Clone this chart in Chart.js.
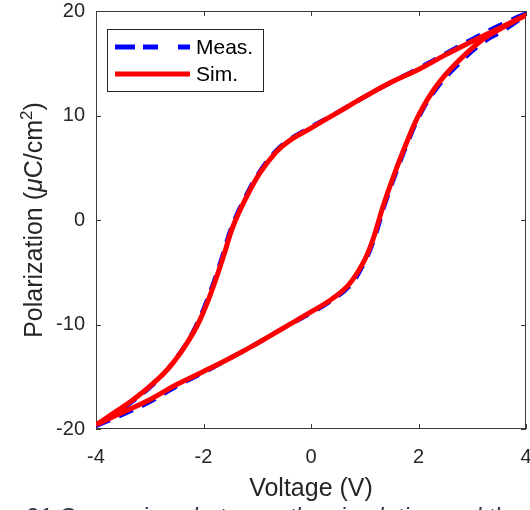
<!DOCTYPE html>
<html>
<head>
<meta charset="utf-8">
<script src="https://cdn.jsdelivr.net/npm/chart.js@4/dist/chart.umd.min.js"></script>
<style>
  html, body { margin: 0; padding: 0; background: #fff; overflow: hidden; }
  #wrap { width: 530px; height: 510px; }
</style>
</head>
<body>
<div id="wrap"><canvas id="c" width="530" height="510"></canvas></div>
<script>
// Hysteresis loops: rising branch (-4 V -> 4 V) followed by falling branch (4 V -> -4 V)
const measVoltage = [-4, -3.5, -3, -2.5, -2, -1.5, -1, -0.5, 0, 0.35, 0.72, 0.98, 1.17, 1.36, 1.55, 1.79, 2.04, 2.35, 2.72, 3.2, 3.6, 4,
                     3.5, 3.0, 2.5, 2.0, 1.5, 1.0, 0.5, 0, -0.4, -0.67, -0.97, -1.22, -1.47, -1.65, -1.84, -2.09, -2.33, -2.64, -2.95, -3.33, -3.65, -4];
const measPolarization = [-19.7, -18.6, -17.4, -15.9, -14.6, -13.2, -11.8, -10.3, -8.9, -7.8, -6.3, -4.2, -1.9, 1.3, 4.1, 7.3, 10.2, 12.7, 14.8, 17.0, 18.2, 19.7,
                          18.6, 17.3, 15.9, 14.5, 13.2, 11.8, 10.3, 8.9, 7.7, 6.5, 4.5, 2.2, -0.6, -3.5, -6.4, -9.6, -11.9, -14.1, -15.8, -17.4, -18.6, -19.7];

const simVoltage = [-4, -3.5, -3, -2.5, -2, -1.5, -1, -0.5, 0, 0.35, 0.7, 0.97, 1.15, 1.34, 1.53, 1.77, 2.02, 2.33, 2.7, 3.2, 3.6, 4,
                    3.5, 3.0, 2.5, 2.0, 1.5, 1.0, 0.5, 0, -0.4, -0.65, -0.95, -1.2, -1.45, -1.63, -1.82, -2.07, -2.31, -2.62, -2.93, -3.31, -3.65, -4];
const simPolarization = [-19.6, -18.4, -17.2, -15.75, -14.5, -13.2, -11.8, -10.3, -8.8, -7.7, -6.2, -4.1, -1.9, 1.3, 4.1, 7.3, 10.2, 12.8, 15.0, 17.3, 18.5, 19.6,
                         18.35, 17.1, 15.8, 14.4, 13.2, 11.8, 10.3, 8.8, 7.6, 6.5, 4.5, 2.2, -0.6, -3.5, -6.4, -9.6, -11.8, -14.0, -15.6, -17.2, -18.4, -19.6];

const seriesNames = ['Meas.', 'Sim.'];
const voltageTicks = [-4, -2, 0, 2, 4];
const polarizationTicks = [-20, -10, 0, 10, 20];
const captionText = '21 Comparison between the simulation and the';

const FONT = "'Liberation Sans', Arial, Helvetica, sans-serif";
const AXIS_COLOR = '#262626';

const toPoints = (xs, ys) => xs.map((x, i) => ({ x: x, y: ys[i] }));

// Axes box with inward tick marks, drawn under the curves
const axesBox = {
  id: 'axesBox',
  beforeDatasetsDraw(chart) {
    const { ctx, chartArea: a, scales } = chart;
    const len = 5;
    ctx.save();
    ctx.strokeStyle = '#3a3a3a';
    ctx.lineWidth = 1;
    ctx.strokeRect(Math.round(a.left) + 0.5, Math.round(a.top) + 0.5,
                   Math.round(a.right - a.left) - 1, Math.round(a.bottom - a.top) - 1);
    ctx.beginPath();
    scales.x.ticks.forEach(t => {
      const px = Math.round(scales.x.getPixelForValue(t.value)) + 0.5;
      ctx.moveTo(px, a.bottom); ctx.lineTo(px, a.bottom - len);
      ctx.moveTo(px, a.top); ctx.lineTo(px, a.top + len);
    });
    scales.y.ticks.forEach(t => {
      const py = Math.round(scales.y.getPixelForValue(t.value)) + 0.5;
      ctx.moveTo(a.left, py); ctx.lineTo(a.left + len, py);
      ctx.moveTo(a.right, py); ctx.lineTo(a.right - len, py);
    });
    ctx.stroke();
    ctx.restore();
  }
};

// Axis titles, boxed legend and the figure caption line
const annotations = {
  id: 'annotations',
  afterDraw(chart) {
    const { ctx, chartArea: a } = chart;
    ctx.save();

    // x-axis title
    ctx.fillStyle = AXIS_COLOR;
    ctx.font = `25px ${FONT}`;
    ctx.textAlign = 'center';
    ctx.textBaseline = 'alphabetic';
    ctx.fillText('Voltage (V)', (a.left + a.right) / 2, 496);

    // y-axis title with italic mu and superscript
    const parts = [
      { t: 'Polarization (', f: `25px ${FONT}`, dy: 0 },
      { t: '\u03BC', f: `italic 25px ${FONT}`, dy: 0 },
      { t: 'C/cm', f: `25px ${FONT}`, dy: 0 },
      { t: '2', f: `17px ${FONT}`, dy: -10 },
      { t: ')', f: `25px ${FONT}`, dy: 0 }
    ];
    let total = 0;
    parts.forEach(p => { ctx.font = p.f; p.w = ctx.measureText(p.t).width; total += p.w; });
    ctx.translate(42, (a.top + a.bottom) / 2);
    ctx.rotate(-Math.PI / 2);
    ctx.textAlign = 'left';
    let x = -total / 2;
    parts.forEach(p => { ctx.font = p.f; ctx.fillText(p.t, x, p.dy); x += p.w; });
    ctx.setTransform(1, 0, 0, 1, 0, 0);

    // legend
    const bx = 107, by = 29, bw = 156, bh = 62;
    ctx.fillStyle = '#ffffff';
    ctx.fillRect(bx, by, bw, bh);
    ctx.strokeStyle = '#262626';
    ctx.lineWidth = 1;
    ctx.strokeRect(bx + 0.5, by + 0.5, bw, bh);
    const rows = [47, 74];
    chart.data.datasets.forEach((ds, i) => {
      ctx.save();
      ctx.strokeStyle = ds.borderColor;
      ctx.lineWidth = 5;
      ctx.setLineDash(ds.borderDash && ds.borderDash.length ? [20, 8, 15, 20] : []);
      ctx.beginPath();
      ctx.moveTo(115, rows[i]);
      ctx.lineTo(190, rows[i]);
      ctx.stroke();
      ctx.restore();
      ctx.fillStyle = '#000000';
      ctx.font = `21px ${FONT}`;
      ctx.textAlign = 'left';
      ctx.textBaseline = 'middle';
      ctx.fillText(ds.label, 196, rows[i] + 1);
    });

    // caption line (partly below the lower edge)
    ctx.font = `italic 22px ${FONT}`;
    const cw = ctx.measureText(captionText).width;
    const size = 22 * 496 / cw;
    ctx.font = `italic ${size.toFixed(2)}px ${FONT}`;
    ctx.fillStyle = '#2b3848';
    ctx.textAlign = 'left';
    ctx.textBaseline = 'alphabetic';
    ctx.fillText(captionText, 25, 525);

    ctx.restore();
  }
};

new Chart(document.getElementById('c'), {
  type: 'scatter',
  data: {
    datasets: [
      {
        label: seriesNames[0],
        data: toPoints(measVoltage, measPolarization),
        showLine: true,
        borderColor: '#0000ff',
        borderWidth: 4.5,
        borderDash: [15, 10],
        pointRadius: 0,
        tension: 0.4,
        fill: false,
        order: 2
      },
      {
        label: seriesNames[1],
        data: toPoints(simVoltage, simPolarization),
        showLine: true,
        borderColor: '#ff0000',
        borderWidth: 5,
        pointRadius: 0,
        tension: 0.4,
        fill: false,
        order: 1
      }
    ]
  },
  options: {
    responsive: false,
    animation: false,
    devicePixelRatio: 1,
    layout: { padding: { top: 11, right: 4, left: 0, bottom: 0 } },
    plugins: { legend: { display: false }, tooltip: { enabled: false } },
    scales: {
      x: {
        type: 'linear',
        min: -4,
        max: 4,
        afterBuildTicks: s => { s.ticks = voltageTicks.map(v => ({ value: v })); },
        afterFit: s => { s.height = 81; s.paddingLeft = 0; s.paddingRight = 0; },
        grid: { display: false, drawTicks: false },
        border: { display: false },
        ticks: {
          font: { family: FONT, size: 20 },
          color: AXIS_COLOR,
          padding: 16,
          maxRotation: 0,
          autoSkip: false,
          callback: v => String(v)
        }
      },
      y: {
        type: 'linear',
        min: -20,
        max: 20,
        afterBuildTicks: s => { s.ticks = polarizationTicks.map(v => ({ value: v })); },
        afterFit: s => { s.width = 96; s.paddingTop = 0; s.paddingBottom = 0; },
        grid: { display: false, drawTicks: false },
        border: { display: false },
        ticks: {
          font: { family: FONT, size: 20 },
          color: AXIS_COLOR,
          padding: 11,
          autoSkip: false,
          callback: v => String(v)
        }
      }
    }
  },
  plugins: [axesBox, annotations]
});
</script>
</body>
</html>
